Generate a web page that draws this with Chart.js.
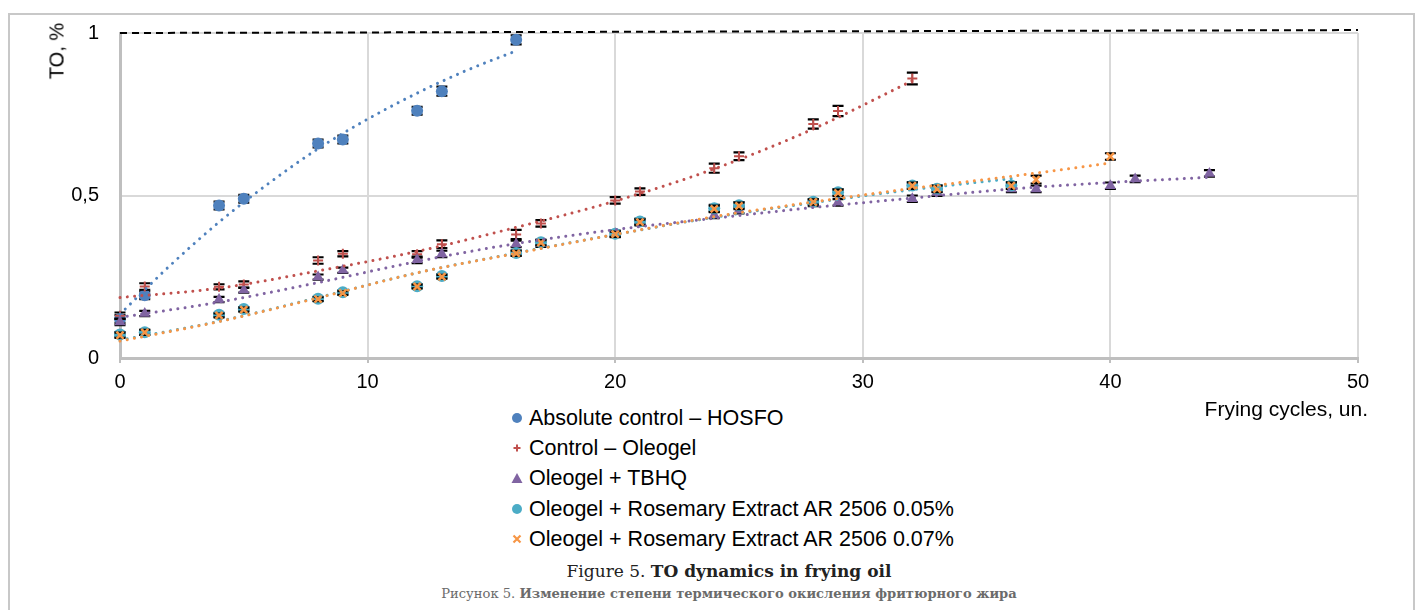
<!DOCTYPE html>
<html>
<head>
<meta charset="utf-8">
<script src="https://cdn.jsdelivr.net/npm/chart.js@4.4.1/dist/chart.umd.min.js"></script>
<style>
  html,body{margin:0;padding:0;background:#fff;}
  body{width:1418px;height:610px;position:relative;overflow:hidden;font-family:"Liberation Sans",Arial,sans-serif;}
  #frame{position:absolute;left:8px;top:13px;width:1403px;height:640px;border-left:2px solid #c8c8c8;border-top:2px solid #c8c8c8;border-right:2px solid #c8c8c8;}
  #wrap{position:absolute;left:0;top:0;width:1418px;height:400px;}
  #ytitle{position:absolute;left:57px;top:51px;transform:translate(-50%,-50%) rotate(-90deg);font-size:20px;color:#000;white-space:nowrap;}
  #xtitle{position:absolute;right:50px;top:397px;font-size:21px;color:#000;white-space:nowrap;}
  #legend{position:absolute;left:510px;top:403px;}
  .li{height:30.2px;line-height:30px;font-size:21.5px;color:#000;white-space:nowrap;display:flex;align-items:center;}
  .li svg{width:14px;height:14px;margin-right:5px;}
  #cap1{position:absolute;left:40px;width:1378px;top:561px;text-align:center;font-family:"DejaVu Serif","Liberation Serif",serif;font-size:17px;color:#222;}
  #cap2{position:absolute;left:40px;width:1378px;top:586px;text-align:center;font-family:"DejaVu Serif","Liberation Serif",serif;font-size:13.1px;color:#6b6b6b;}
</style>
</head>
<body>
<div id="frame"></div>
<div id="wrap"><canvas id="c" width="1418" height="400"></canvas></div>
<div id="ytitle">TO, %</div>
<div id="xtitle">Frying cycles, un.</div>
<div id="legend"></div>
<div id="cap1">Figure 5. <b>TO dynamics in frying oil</b></div>
<div id="cap2">Рисунок 5. <b>Изменение степени термического окисления фритюрного жира</b></div>
<script>
// ---------- data ----------
const seriesNames = [
  "Absolute control – HOSFO",
  "Control – Oleogel",
  "Oleogel + TBHQ",
  "Oleogel + Rosemary Extract AR 2506 0.05%",
  "Oleogel + Rosemary Extract AR 2506 0.07%"
];
const seriesColors = ["#4f81bd", "#c0504d", "#8064a2", "#4bacc6", "#f79646"];

const hosfoX = [0, 1, 4, 5, 8, 9, 12, 13, 16];
const hosfoY = [0.12, 0.193, 0.469, 0.49, 0.66, 0.672, 0.761, 0.821, 0.979];
const hosfoErr = [0.012, 0.012, 0.012, 0.012, 0.012, 0.012, 0.012, 0.014, 0.014];

const oleogelX = [0, 1, 4, 5, 8, 9, 12, 13, 16, 17, 20, 21, 24, 25, 28, 29, 32];
const oleogelY = [0.13, 0.22, 0.219, 0.226, 0.30, 0.321, 0.319, 0.35, 0.38, 0.414, 0.485, 0.512, 0.584, 0.621, 0.72, 0.76, 0.86];
const oleogelErr = [0.01, 0.01, 0.008, 0.01, 0.01, 0.008, 0.01, 0.012, 0.014, 0.01, 0.01, 0.01, 0.014, 0.012, 0.014, 0.016, 0.018];

const tbhqX = [0, 1, 4, 5, 8, 9, 12, 13, 16, 17, 20, 21, 24, 25, 28, 29, 32, 33, 36, 37, 40, 41, 44];
const tbhqY = [0.111, 0.137, 0.18, 0.209, 0.249, 0.27, 0.302, 0.32, 0.351, 0.352, 0.382, 0.418, 0.44, 0.455, 0.477, 0.479, 0.49, 0.509, 0.52, 0.52, 0.53, 0.551, 0.568];
const tbhqErr = [0.01, 0.008, 0.008, 0.008, 0.008, 0.008, 0.01, 0.01, 0.01, 0.01, 0.01, 0.01, 0.01, 0.01, 0.01, 0.01, 0.01, 0.01, 0.01, 0.01, 0.01, 0.01, 0.01];

const rose05X = [0, 1, 4, 5, 8, 9, 12, 13, 16, 17, 20, 21, 24, 25, 28, 29, 32, 33, 36];
const rose05Y = [0.072, 0.079, 0.133, 0.151, 0.182, 0.202, 0.221, 0.252, 0.323, 0.356, 0.382, 0.42, 0.461, 0.47, 0.481, 0.51, 0.531, 0.521, 0.531];
const rose05Err = [0.008, 0.008, 0.006, 0.006, 0.006, 0.006, 0.006, 0.006, 0.008, 0.008, 0.008, 0.008, 0.01, 0.01, 0.008, 0.01, 0.01, 0.01, 0.01];

const rose07X = [0, 1, 4, 5, 8, 9, 12, 13, 16, 17, 20, 21, 24, 25, 28, 29, 32, 33, 36, 37, 40];
const rose07Y = [0.07, 0.079, 0.131, 0.149, 0.181, 0.2, 0.22, 0.25, 0.322, 0.355, 0.381, 0.418, 0.459, 0.468, 0.48, 0.508, 0.53, 0.52, 0.53, 0.549, 0.62];
const rose07Err = [0.008, 0.008, 0.006, 0.006, 0.006, 0.006, 0.006, 0.006, 0.008, 0.008, 0.008, 0.008, 0.01, 0.01, 0.008, 0.01, 0.01, 0.01, 0.01, 0.012, 0.01];

// trendlines
const hosfoTrendX = [0, 2, 4, 6, 8, 10, 12, 14, 16];
const hosfoTrendY = [0.135, 0.283, 0.418, 0.537, 0.644, 0.735, 0.815, 0.885, 0.945];
const oleogelTrendX = [0, 4, 8, 12, 16, 20, 24, 28, 32];
const oleogelTrendY = [0.186, 0.215, 0.268, 0.328, 0.402, 0.483, 0.582, 0.705, 0.853];
const tbhqTrendX = [0, 4, 8, 12, 16, 20, 24, 28, 32, 36, 40, 44];
const tbhqTrendY = [0.125, 0.172, 0.232, 0.297, 0.352, 0.395, 0.43, 0.463, 0.492, 0.52, 0.54, 0.556];
const rose05TrendX = [0, 4, 8, 12, 16, 20, 24, 28, 32, 36];
const rose05TrendY = [0.055, 0.113, 0.186, 0.262, 0.323, 0.38, 0.433, 0.478, 0.518, 0.552];
const rose07TrendX = [0, 4, 8, 12, 16, 20, 24, 28, 32, 36, 40];
const rose07TrendY = [0.052, 0.112, 0.185, 0.262, 0.322, 0.38, 0.435, 0.48, 0.522, 0.559, 0.6];

// reference (limit) line
const refLineX = [0, 50];
const refLineY = [1, 1.009];

const xTickValues = [0, 10, 20, 30, 40, 50];
const yTickValues = [0, 0.5, 1];
const yTickLabels = ["0", "0,5", "1"];

// ---------- build ----------
const pts = (xs, ys) => xs.map((x, i) => ({x: x, y: ys[i]}));

const markerCfg = [
  {pointStyle: 'circle', radius: 6, border: 0},
  {pointStyle: 'cross', radius: 5, border: 2},
  {pointStyle: 'triangle', radius: 6.5, border: 0},
  {pointStyle: 'circle', radius: 6, border: 0},
  {pointStyle: 'crossRot', radius: 5, border: 2.5}
];
const allX = [hosfoX, oleogelX, tbhqX, rose05X, rose07X];
const allY = [hosfoY, oleogelY, tbhqY, rose05Y, rose07Y];
const allErr = [hosfoErr, oleogelErr, tbhqErr, rose05Err, rose07Err];
const trendX = [hosfoTrendX, oleogelTrendX, tbhqTrendX, rose05TrendX, rose07TrendX];
const trendY = [hosfoTrendY, oleogelTrendY, tbhqTrendY, rose05TrendY, rose07TrendY];

const datasets = [];
for (let i = 0; i < 5; i++) {
  const m = markerCfg[i];
  datasets.push({
    type: 'scatter',
    label: seriesNames[i],
    data: pts(allX[i], allY[i]),
    err: allErr[i],
    backgroundColor: seriesColors[i],
    borderColor: seriesColors[i],
    pointStyle: m.pointStyle,
    pointRadius: m.radius,
    pointBorderWidth: m.border,
    pointHoverRadius: m.radius,
    showLine: false,
    clip: false,
    order: 20 - i
  });
}
for (let i = 0; i < 5; i++) {
  datasets.push({
    type: 'line',
    label: seriesNames[i] + ' trend',
    data: pts(trendX[i], trendY[i]),
    borderColor: seriesColors[i],
    borderWidth: 3,
    borderDash: [0.01, 7.3],
    borderCapStyle: 'round',
    cubicInterpolationMode: 'monotone',
    pointRadius: 0,
    fill: false,
    clip: false,
    order: 10 - i
  });
}
datasets.push({
  type: 'line',
  label: 'limit',
  data: pts(refLineX, refLineY),
  borderColor: '#000',
  borderWidth: 2,
  borderDash: [7, 5],
  pointRadius: 0,
  clip: false,
  order: 0
});

const errorBars = {
  id: 'errorBars',
  beforeDatasetDraw(chart, args) {
    const ds = chart.data.datasets[args.index];
    if (!ds.err) return;
    const xs = chart.scales.x, ys = chart.scales.y, ctx = chart.ctx;
    ctx.save();
    ctx.strokeStyle = '#000';
    ds.data.forEach((p, j) => {
      const e = ds.err[j];
      const px = xs.getPixelForValue(p.x);
      const top = ys.getPixelForValue(p.y + e);
      const bot = ys.getPixelForValue(p.y - e);
      ctx.lineWidth = 1.5;
      ctx.beginPath();
      ctx.moveTo(px, top); ctx.lineTo(px, bot);
      ctx.stroke();
      ctx.lineWidth = 2.2;
      ctx.beginPath();
      ctx.moveTo(px - 5.5, top); ctx.lineTo(px + 5.5, top);
      ctx.moveTo(px - 5.5, bot); ctx.lineTo(px + 5.5, bot);
      ctx.stroke();
    });
    ctx.restore();
  }
};

new Chart(document.getElementById('c'), {
  data: {datasets: datasets},
  plugins: [errorBars],
  options: {
    responsive: false,
    animation: false,
    events: [],
    layout: {padding: {left: 60, right: 60, top: 32, bottom: 0}},
    plugins: {legend: {display: false}, tooltip: {enabled: false}},
    scales: {
      x: {
        type: 'linear', min: 0, max: 50,
        afterFit(s) { s.height = 42; },
        afterBuildTicks(s) { s.ticks = xTickValues.map(v => ({value: v})); },
        ticks: {color: '#000', font: {family: 'Liberation Sans', size: 20}, padding: 7, maxRotation: 0},
        grid: {color: '#d9d9d9', lineWidth: 2, tickLength: 5, tickColor: '#bfbfbf', tickWidth: 2},
        border: {color: '#bfbfbf', width: 3}
      },
      y: {
        type: 'linear', min: 0, max: 1,
        afterFit(s) { s.width = 60; },
        afterBuildTicks(s) { s.ticks = yTickValues.map(v => ({value: v})); },
        ticks: {color: '#000', font: {family: 'Liberation Sans', size: 20}, padding: 21,
                callback: (v) => yTickLabels[yTickValues.indexOf(v)]},
        grid: {color: '#d9d9d9', lineWidth: 2, drawTicks: false},
        border: {color: '#bfbfbf', width: 3}
      }
    }
  }
});

// ---------- HTML legend ----------
const icons = [
  '<svg viewBox="0 0 14 14"><circle cx="7" cy="7" r="5" fill="#4f81bd"/></svg>',
  '<svg viewBox="0 0 14 14"><path d="M7 3.5V10.5M3.5 7H10.5" stroke="#c0504d" stroke-width="2"/></svg>',
  '<svg viewBox="0 0 14 14"><path d="M7 2L12.5 12H1.5Z" fill="#8064a2"/></svg>',
  '<svg viewBox="0 0 14 14"><circle cx="7" cy="7" r="5" fill="#4bacc6"/></svg>',
  '<svg viewBox="0 0 14 14"><path d="M3.5 3.5L10.5 10.5M10.5 3.5L3.5 10.5" stroke="#f79646" stroke-width="2.2"/></svg>'
];
const leg = document.getElementById('legend');
seriesNames.forEach((n, i) => {
  const d = document.createElement('div');
  d.className = 'li';
  d.innerHTML = icons[i] + '<span></span>';
  d.querySelector('span').textContent = n;
  leg.appendChild(d);
});
</script>
</body>
</html>
